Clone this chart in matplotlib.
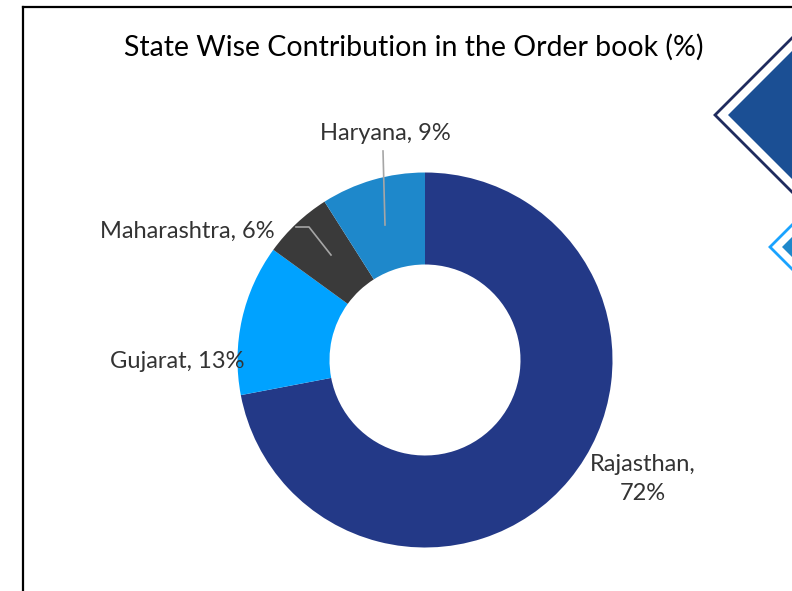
import matplotlib
matplotlib.use("Agg")
import matplotlib.pyplot as plt
from matplotlib.patches import Polygon

# data
states = ["Rajasthan", "Gujarat", "Maharashtra", "Haryana"]
shares = [72, 13, 6, 9]
colors = ["#233987", "#00A2FF", "#3A3A3A", "#1E88CB"]
title = "State Wise Contribution in the Order book (%)"

W, H = 792, 591
plt.rcParams["font.family"] = ["Lato", "DejaVu Sans"]

fig = plt.figure(figsize=(W / 100, H / 100), dpi=100)
ax = fig.add_axes([0, 0, 1, 1])


def py(y):
    # pixel-from-top to data y
    return H - y


cx, cy, r = 425, py(360), 187.5
ax.pie(shares, colors=colors, startangle=90, counterclock=False,
       center=(cx, cy), radius=r, wedgeprops=dict(width=92, linewidth=0),
       frame=True)
ax.set_xlim(0, W)
ax.set_ylim(0, H)
ax.set_aspect("equal")
ax.axis("off")

# frame lines (top and left)
ax.plot([22.5, W + 5], [py(6.5), py(6.5)], color="black", lw=1.6,
        solid_capstyle="projecting", clip_on=False)
ax.plot([22.5, 22.5], [py(6.5), -5], color="black", lw=1.6,
        solid_capstyle="projecting", clip_on=False)

# title
ax.text(414, py(47), title, ha="center", va="center", fontsize=20.5,
        color="black")

lab_kw = dict(fontsize=17, color="#333333")
ax.text(385, py(134), f"{states[3]}, {shares[3]}%", ha="center",
        va="center", **lab_kw)
ax.text(187, py(231), f"{states[2]}, {shares[2]}%", ha="center",
        va="center", **lab_kw)
ax.text(177, py(361), f"{states[1]}, {shares[1]}%", ha="center",
        va="center", **lab_kw)
ax.text(643, py(479), f"{states[0]},\n{shares[0]}%", ha="center",
        va="center", linespacing=1.5, **lab_kw)

# leader lines
lead = "#A6A6A6"
ax.plot([383, 385], [py(151), py(225)], color=lead, lw=1.2)
ax.plot([296, 309, 331], [py(227), py(227), py(255)], color=lead, lw=1.2)


# decorative diamonds on the right edge
def diamond(xl, yc, half, **kw):
    pts = [(xl, py(yc)), (xl + half, py(yc - half)),
           (xl + 2 * half, py(yc)), (xl + half, py(yc + half))]
    ax.add_patch(Polygon(pts, closed=True, clip_on=False, **kw))


diamond(715, 115, 95, facecolor="white", edgecolor="#1F2B5E", lw=2)
diamond(728, 115, 82, facecolor="#1B4F94", edgecolor="none")
diamond(770, 247, 40, facecolor="white", edgecolor="#1AA3FF", lw=2)
diamond(782, 247, 28, facecolor="#1E88CB", edgecolor="none")

fig.savefig("out.png", dpi=100)
